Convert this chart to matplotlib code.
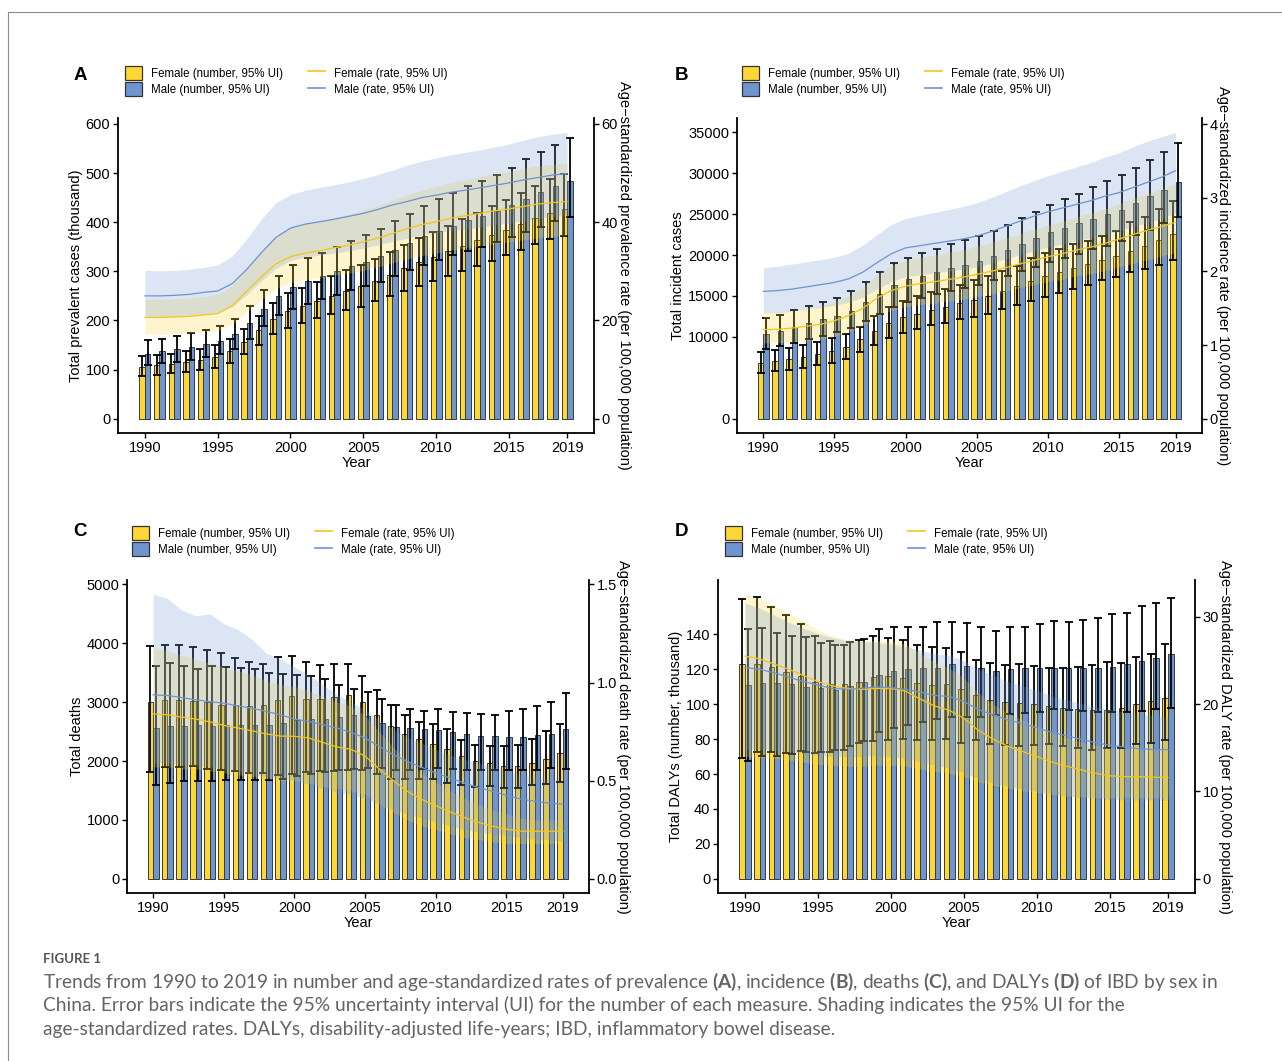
import numpy as np
import matplotlib
matplotlib.use("Agg")
import matplotlib.pyplot as plt
from matplotlib.patches import Patch
from matplotlib.lines import Line2D

plt.rcParams['font.family'] = ['Liberation Sans', 'DejaVu Sans']
plt.rcParams['mathtext.fontset'] = 'custom'
plt.rcParams['mathtext.rm'] = 'Lato'
plt.rcParams['mathtext.bf'] = 'Lato:bold'

W, H = 1282, 1061

years = np.arange(1990, 2020)
year_ticks = [1990, 1995, 2000, 2005, 2010, 2015, 2019]

# ---- A: prevalence (number in thousand, rate per 100,000) ----
prev_f = [106, 109, 112, 116, 120, 126, 137, 157, 180, 203, 219, 230, 240, 250, 260,
          270, 281, 293, 306, 319, 330, 342, 352, 363, 374, 385, 396, 408, 418, 426]
prev_f_lo = [87, 89, 92, 95, 99, 104, 114, 132, 151, 172, 185, 194, 204, 213, 221,
             228, 239, 249, 260, 270, 280, 290, 300, 311, 321, 333, 343, 355, 365, 372]
prev_f_hi = [128, 130, 132, 138, 142, 150, 163, 183, 210, 236, 255, 267, 279, 290, 303,
             313, 326, 339, 353, 367, 381, 393, 406, 419, 432, 445, 459, 473, 487, 499]
prev_m = [132, 137, 141, 146, 152, 159, 172, 195, 223, 249, 268, 281, 291, 300, 310,
          320, 332, 344, 358, 371, 382, 393, 404, 413, 423, 435, 448, 461, 473, 484]
prev_m_lo = [109, 113, 115, 120, 126, 132, 142, 163, 188, 211, 224, 234, 243, 251, 262,
             270, 279, 291, 302, 313, 323, 333, 342, 350, 359, 370, 380, 391, 403, 410]
prev_m_hi = [160, 163, 169, 175, 181, 189, 203, 230, 261, 291, 313, 327, 338, 349, 361,
             373, 386, 402, 417, 433, 447, 460, 473, 484, 497, 510, 528, 543, 558, 571]
prev_rate_f = [20.6, 20.6, 20.7, 20.8, 21.1, 21.4, 23.0, 26.0, 28.9, 31.5, 33.0, 33.7, 34.2, 34.8, 35.3,
               36.0, 36.8, 37.7, 38.7, 39.5, 40.1, 40.8, 41.3, 41.8, 42.3, 42.7, 43.2, 43.7, 44.0, 44.2]
prev_rate_f_lo = [17.2, 17.2, 17.3, 17.4, 17.7, 17.9, 19.2, 21.7, 24.2, 26.4, 27.7, 28.3, 28.7, 29.2, 29.6,
                  30.2, 30.9, 31.7, 32.5, 33.2, 33.7, 34.3, 34.8, 35.2, 35.6, 36.0, 36.4, 36.8, 37.1, 37.3]
prev_rate_f_hi = [24.3, 24.3, 24.4, 24.6, 24.9, 25.3, 27.1, 30.7, 34.1, 37.2, 38.9, 39.7, 40.3, 41.0, 41.6,
                  42.4, 43.4, 44.4, 45.6, 46.5, 47.3, 48.1, 48.7, 49.3, 49.9, 50.3, 50.9, 51.5, 51.8, 52.1]
prev_rate_m = [25.0, 25.0, 25.1, 25.3, 25.7, 26.0, 27.5, 30.4, 33.8, 36.9, 38.8, 39.6, 40.1, 40.6, 41.2,
               41.8, 42.6, 43.5, 44.2, 45.0, 45.5, 46.1, 46.5, 47.0, 47.5, 48.0, 48.6, 49.1, 49.6, 49.9]
prev_rate_m_lo = [20.8, 20.8, 20.8, 21.0, 21.3, 21.6, 22.8, 25.2, 28.1, 30.6, 32.2, 32.9, 33.3, 33.7, 34.2,
                  34.7, 35.4, 36.1, 36.7, 37.4, 37.8, 38.3, 38.6, 39.0, 39.4, 39.8, 40.3, 40.8, 41.2, 41.4]
prev_rate_m_hi = [30.2, 30.1, 30.2, 30.4, 30.8, 31.3, 33.1, 36.6, 40.6, 44.0, 45.6, 46.5, 47.1, 47.6, 48.2,
                  48.9, 49.7, 50.6, 51.6, 52.4, 53.1, 53.7, 54.2, 54.7, 55.3, 55.9, 56.7, 57.4, 57.9, 58.3]

# ---- B: incidence (cases, rate per 100,000) ----
inc_f = [6830, 7030, 7320, 7560, 7930, 8250, 8820, 9720, 10690, 11670, 12440, 12850, 13290, 13660, 14110,
         14510, 15040, 15570, 16180, 16790, 17400, 17890, 18410, 18900, 19350, 19840, 20490, 21140, 21830, 22600]
inc_f_lo = [5610, 5770, 5930, 6220, 6590, 6830, 7320, 8170, 8980, 9880, 10490, 10930, 11420, 11750, 12150,
            12400, 12800, 13400, 13900, 14400, 14900, 15400, 15900, 16400, 16900, 17300, 17900, 18300, 18800, 19400]
inc_f_hi = [8130, 8370, 8620, 9020, 9350, 9840, 10410, 11260, 12520, 13620, 14350, 14960, 15490, 15890, 16300,
            16900, 17400, 18000, 18700, 19600, 20200, 20800, 21300, 21700, 22300, 23000, 24000, 24700, 25600, 26600]
inc_m = [10410, 10770, 11180, 11670, 12150, 12600, 13210, 14230, 15280, 16300, 17030, 17480, 17930, 18370, 18820,
         19310, 19920, 20610, 21340, 22110, 22800, 23370, 23900, 24430, 25000, 25570, 26340, 27200, 28010, 28900]
inc_m_lo = [8500, 8900, 9300, 9700, 10100, 10600, 11100, 11900, 12800, 13700, 14300, 14800, 15200, 15600, 16000,
            16400, 16900, 17400, 18000, 18600, 19200, 19600, 20100, 20700, 21100, 21700, 22400, 23100, 23900, 24700]
inc_m_hi = [12300, 12700, 13300, 13800, 14300, 14800, 15600, 16700, 17900, 19000, 19700, 20300, 20700, 21300, 21800,
            22300, 22900, 23700, 24500, 25300, 26100, 26800, 27500, 28300, 29000, 29800, 30700, 31600, 32600, 33700]
inc_rate_f = [1.21, 1.214, 1.23, 1.255, 1.28, 1.33, 1.40, 1.50, 1.64, 1.74, 1.80, 1.835, 1.86, 1.89, 1.92,
              1.96, 2.00, 2.05, 2.10, 2.15, 2.20, 2.24, 2.29, 2.33, 2.38, 2.44, 2.50, 2.56, 2.61, 2.67]
inc_rate_f_lo = [1.03, 1.03, 1.04, 1.06, 1.08, 1.12, 1.18, 1.27, 1.39, 1.47, 1.52, 1.55, 1.57, 1.60, 1.62,
                 1.66, 1.69, 1.73, 1.78, 1.82, 1.86, 1.89, 1.94, 1.97, 2.01, 2.06, 2.11, 2.16, 2.21, 2.26]
inc_rate_f_hi = [1.44, 1.45, 1.47, 1.50, 1.53, 1.59, 1.67, 1.79, 1.96, 2.08, 2.15, 2.19, 2.22, 2.26, 2.29,
                 2.34, 2.39, 2.45, 2.51, 2.57, 2.63, 2.68, 2.74, 2.79, 2.85, 2.92, 2.99, 3.06, 3.12, 3.19]
inc_rate_m = [1.73, 1.74, 1.76, 1.79, 1.82, 1.85, 1.90, 1.99, 2.12, 2.24, 2.32, 2.35, 2.38, 2.41, 2.44,
              2.48, 2.54, 2.61, 2.68, 2.75, 2.81, 2.86, 2.91, 2.96, 3.02, 3.07, 3.14, 3.21, 3.28, 3.37]
inc_rate_m_lo = [1.44, 1.44, 1.46, 1.49, 1.51, 1.54, 1.58, 1.65, 1.76, 1.86, 1.93, 1.95, 1.98, 2.00, 2.03,
                 2.06, 2.11, 2.17, 2.22, 2.28, 2.33, 2.37, 2.42, 2.46, 2.51, 2.55, 2.61, 2.66, 2.72, 2.80]
inc_rate_m_hi = [2.05, 2.07, 2.10, 2.13, 2.16, 2.19, 2.25, 2.36, 2.50, 2.64, 2.72, 2.76, 2.80, 2.84, 2.88,
                 2.93, 3.00, 3.08, 3.16, 3.23, 3.30, 3.36, 3.42, 3.48, 3.55, 3.61, 3.69, 3.77, 3.83, 3.89]

# ---- C: deaths (number, rate per 100,000) ----
death_f = [3000, 3040, 3040, 3020, 3000, 2960, 2950, 2940, 2960, 3040, 3100, 3060, 3050, 3080, 3130,
           3000, 2780, 2600, 2460, 2380, 2290, 2200, 2090, 2000, 1960, 1920, 1920, 1970, 2040, 2140]
death_f_lo = [1814, 1893, 1898, 1921, 1864, 1847, 1831, 1802, 1790, 1760, 1780, 1814, 1825, 1836, 1853,
              1847, 1780, 1701, 1700, 1690, 1690, 1630, 1590, 1560, 1570, 1540, 1550, 1590, 1610, 1640]
death_f_hi = [3960, 3977, 3966, 3944, 3893, 3842, 3746, 3678, 3650, 3763, 3780, 3689, 3638, 3640, 3650,
              3441, 3203, 2949, 2780, 2661, 2630, 2540, 2350, 2280, 2260, 2250, 2270, 2380, 2510, 2621]
death_m = [2560, 2600, 2600, 2610, 2600, 2610, 2620, 2610, 2620, 2650, 2690, 2720, 2720, 2740, 2790,
           2760, 2650, 2570, 2560, 2540, 2520, 2490, 2460, 2430, 2420, 2410, 2410, 2440, 2460, 2540]
death_m_lo = [1590, 1620, 1660, 1660, 1660, 1670, 1680, 1680, 1680, 1700, 1740, 1780, 1810, 1840, 1860,
              1880, 1880, 1840, 1840, 1860, 1890, 1870, 1840, 1840, 1840, 1840, 1840, 1840, 1880, 1870]
death_m_hi = [3620, 3660, 3610, 3570, 3620, 3590, 3580, 3560, 3500, 3480, 3460, 3450, 3390, 3290, 3230,
              3170, 3060, 2950, 2880, 2850, 2880, 2830, 2810, 2800, 2780, 2850, 2880, 2930, 3000, 3150]
death_rate_f = [0.840, 0.836, 0.824, 0.814, 0.800, 0.782, 0.768, 0.754, 0.738, 0.727, 0.726, 0.718, 0.695, 0.672, 0.660,
                0.625, 0.560, 0.500, 0.445, 0.405, 0.372, 0.342, 0.313, 0.288, 0.268, 0.252, 0.243, 0.242, 0.242, 0.242]
death_rate_f_lo = [0.57, 0.57, 0.56, 0.56, 0.55, 0.54, 0.53, 0.52, 0.51, 0.50, 0.50, 0.49, 0.47, 0.46, 0.45,
                   0.43, 0.38, 0.34, 0.30, 0.27, 0.25, 0.23, 0.21, 0.20, 0.19, 0.18, 0.18, 0.18, 0.18, 0.18]
death_rate_f_hi = [1.18, 1.16, 1.14, 1.12, 1.10, 1.08, 1.06, 1.04, 1.01, 0.99, 0.98, 0.96, 0.93, 0.90, 0.88,
                   0.83, 0.75, 0.67, 0.60, 0.54, 0.49, 0.45, 0.41, 0.38, 0.35, 0.33, 0.31, 0.30, 0.30, 0.30]
death_rate_m = [0.937, 0.934, 0.924, 0.912, 0.903, 0.895, 0.881, 0.869, 0.853, 0.836, 0.814, 0.802, 0.785, 0.768, 0.747,
                0.717, 0.675, 0.632, 0.598, 0.568, 0.539, 0.514, 0.488, 0.466, 0.446, 0.425, 0.407, 0.395, 0.385, 0.381]
death_rate_m_lo = [0.59, 0.59, 0.58, 0.58, 0.57, 0.56, 0.55, 0.53, 0.52, 0.51, 0.50, 0.48, 0.46, 0.44, 0.43,
                   0.41, 0.38, 0.35, 0.33, 0.31, 0.29, 0.27, 0.25, 0.24, 0.23, 0.22, 0.21, 0.20, 0.20, 0.19]
death_rate_m_hi = [1.45, 1.43, 1.37, 1.34, 1.35, 1.30, 1.27, 1.22, 1.15, 1.12, 1.08, 1.04, 0.99, 0.94, 0.90,
                   0.86, 0.81, 0.76, 0.72, 0.69, 0.66, 0.63, 0.61, 0.59, 0.57, 0.55, 0.53, 0.52, 0.51, 0.50]

# ---- D: DALYs (number in thousand, rate per 100,000) ----
daly_f = [123.0, 123.0, 121.3, 118.2, 116.3, 112.9, 111.4, 111.6, 112.9, 115.6, 116.3, 114.8, 112.2, 111.0, 111.7,
          108.8, 105.3, 102.5, 101.1, 100.9, 100.2, 99.1, 98.1, 97.3, 96.8, 96.8, 97.9, 100.2, 101.9, 103.8]
daly_f_lo = [69.0, 72.5, 72.5, 72.0, 73.0, 72.0, 72.5, 74.0, 78.0, 79.0, 79.5, 80.0, 79.5, 79.5, 80.0,
             78.0, 79.5, 77.0, 76.5, 76.0, 76.5, 77.0, 76.0, 75.0, 74.0, 75.0, 75.0, 77.0, 77.5, 79.5]
daly_f_hi = [160.0, 161.5, 155.5, 151.0, 146.0, 139.0, 136.0, 134.0, 136.5, 139.0, 138.0, 137.0, 134.0, 132.5, 132.0,
             130.0, 125.5, 123.5, 122.5, 123.0, 122.0, 121.0, 121.0, 121.5, 122.5, 124.0, 123.5, 127.0, 129.0, 134.5]
daly_m = [111.0, 112.0, 112.0, 111.5, 110.0, 109.0, 108.0, 110.5, 113.0, 117.0, 119.0, 120.0, 120.5, 121.0, 123.0,
          122.0, 120.5, 119.0, 120.0, 120.5, 121.0, 121.0, 121.0, 121.0, 121.0, 121.5, 123.0, 125.0, 126.5, 128.5]
daly_m_lo = [67.5, 70.5, 70.5, 71.5, 72.5, 72.5, 74.0, 76.0, 79.0, 84.0, 86.5, 88.0, 90.0, 91.5, 92.5,
             92.5, 92.5, 94.0, 94.5, 95.0, 95.5, 97.0, 96.5, 96.0, 95.5, 95.5, 95.5, 96.0, 97.0, 98.0]
daly_m_hi = [143.0, 143.5, 141.0, 139.0, 138.5, 135.0, 134.0, 135.5, 137.5, 143.0, 144.0, 144.0, 144.5, 147.0, 147.0,
             146.5, 144.5, 142.0, 144.0, 144.5, 146.0, 147.5, 147.0, 148.0, 149.5, 151.5, 152.0, 156.0, 158.0, 161.0]
daly_rate_f = [25.5, 25.2, 24.6, 24.0, 23.3, 22.6, 22.1, 21.8, 21.7, 21.8, 21.8, 21.5, 20.6, 19.8, 19.3,
               18.4, 17.0, 16.0, 15.2, 14.6, 14.0, 13.4, 12.9, 12.5, 12.1, 11.8, 11.7, 11.7, 11.64, 11.6]
daly_rate_f_lo = [14.0, 13.9, 13.8, 13.6, 13.4, 13.1, 13.0, 12.9, 12.9, 13.0, 13.0, 12.9, 12.6, 12.3, 12.1,
                  11.7, 11.1, 10.7, 10.4, 10.1, 9.9, 9.7, 9.5, 9.4, 9.3, 9.3, 9.3, 9.3, 9.3, 9.3]
daly_rate_f_hi = [32.6, 32.1, 31.3, 30.4, 29.5, 28.5, 27.8, 27.4, 27.2, 27.3, 27.3, 26.9, 25.8, 24.8, 24.1,
                  23.0, 21.3, 20.0, 19.0, 18.2, 17.5, 16.8, 16.2, 15.7, 15.3, 15.0, 14.9, 14.9, 14.8, 14.8]
daly_rate_m = [24.2, 24.0, 23.6, 23.1, 22.6, 22.2, 21.8, 21.7, 21.8, 22.0, 21.9, 21.7, 21.4, 21.0, 20.9,
               20.3, 19.4, 18.8, 18.2, 17.8, 17.3, 16.8, 16.4, 16.0, 15.6, 15.3, 15.1, 14.9, 14.8, 14.8]
daly_rate_m_lo = [14.8, 14.8, 14.7, 14.6, 14.4, 14.2, 14.0, 14.0, 14.0, 14.1, 14.0, 13.8, 13.4, 13.0, 12.7,
                  12.2, 11.5, 11.0, 10.6, 10.3, 10.0, 9.7, 9.5, 9.3, 9.2, 9.1, 9.0, 9.0, 9.0, 9.0]
daly_rate_m_hi = [31.6, 31.0, 30.2, 29.4, 28.7, 28.1, 27.6, 27.3, 27.2, 27.1, 26.9, 26.6, 26.2, 25.8, 25.6,
                  25.0, 24.0, 23.3, 22.6, 22.1, 21.6, 21.0, 20.5, 20.1, 19.7, 19.4, 19.1, 18.9, 18.7, 18.5]

FEMALE = '#FDD835'
MALE = '#6F95CF'
FEMALE_LINE = '#F5C518'
MALE_LINE = '#6E93D3'
BAR_W = 0.38

panels = [
    dict(letter='A', rect=(118, 118, 594, 433), letter_xy=(80, 75), legend_xy=(125, 66),
         num=(prev_f, prev_f_lo, prev_f_hi, prev_m, prev_m_lo, prev_m_hi),
         rate=(prev_rate_f, prev_rate_f_lo, prev_rate_f_hi, prev_rate_m, prev_rate_m_lo, prev_rate_m_hi),
         factor=10, yticks=[0, 100, 200, 300, 400, 500, 600], rticks=[0, 20, 40, 60], rfmt='{:g}',
         ylabel='Total prevalent cases (thousand)',
         rlabel='Age\u2212standardized prevalence rate (per 100,000 population)'),
    dict(letter='B', rect=(737, 118, 1202, 433), letter_xy=(681, 75), legend_xy=(742, 66),
         num=(inc_f, inc_f_lo, inc_f_hi, inc_m, inc_m_lo, inc_m_hi),
         rate=(inc_rate_f, inc_rate_f_lo, inc_rate_f_hi, inc_rate_m, inc_rate_m_lo, inc_rate_m_hi),
         factor=9000, yticks=[0, 10000, 15000, 20000, 25000, 30000, 35000], rticks=[0, 1, 2, 3, 4], rfmt='{:g}',
         ylabel='Total incident cases',
         rlabel='Age\u2212standardized incidence rate (per 100,000 population)'),
    dict(letter='C', rect=(127, 580, 589, 893), letter_xy=(80, 531), legend_xy=(132, 526),
         num=(death_f, death_f_lo, death_f_hi, death_m, death_m_lo, death_m_hi),
         rate=(death_rate_f, death_rate_f_lo, death_rate_f_hi, death_rate_m, death_rate_m_lo, death_rate_m_hi),
         factor=10000 / 3, yticks=[0, 1000, 2000, 3000, 4000, 5000], rticks=[0, 0.5, 1.0, 1.5], rfmt='{:.1f}',
         ylabel='Total deaths',
         rlabel='Age\u2212standardized death rate (per 100,000 population)'),
    dict(letter='D', rect=(718, 580, 1195, 893), letter_xy=(681, 531), legend_xy=(725, 526),
         num=(daly_f, daly_f_lo, daly_f_hi, daly_m, daly_m_lo, daly_m_hi),
         rate=(daly_rate_f, daly_rate_f_lo, daly_rate_f_hi, daly_rate_m, daly_rate_m_lo, daly_rate_m_hi),
         factor=5, yticks=[0, 20, 40, 60, 80, 100, 120, 140], rticks=[0, 10, 20, 30], rfmt='{:g}',
         ylabel='Total DALYs (number, thousand)',
         rlabel='Age\u2212standardized DALY rate (per 100,000 population)'),
]

fig = plt.figure(figsize=(W / 100, H / 100), dpi=100)
fig.patch.set_facecolor('white')

# page frame
fig.add_artist(Line2D([8 / W, 1], [1 - 12 / H, 1 - 12 / H], color='#8c8c8c', lw=0.8))
fig.add_artist(Line2D([8 / W, 8 / W], [0, 1 - 12 / H], color='#8c8c8c', lw=0.8))

legend_handles = [
    Patch(facecolor=FEMALE, edgecolor='#333333', lw=0.9, label='Female (number, 95% UI)'),
    Patch(facecolor=MALE, edgecolor='#333333', lw=0.9, label='Male (number, 95% UI)'),
    Line2D([], [], color=FEMALE_LINE, lw=1.2, label='Female (rate, 95% UI)'),
    Line2D([], [], color=MALE_LINE, lw=1.2, label='Male (rate, 95% UI)'),
]


def draw_panel(p):
    l, t, r, b = p['rect']
    ax = fig.add_axes([l / W, 1 - b / H, (r - l) / W, (b - t) / H])
    f, f_lo, f_hi, m, m_lo, m_hi = [np.asarray(v, float) for v in p['num']]
    rf, rf_lo, rf_hi, rm, rm_lo, rm_hi = [np.asarray(v, float) for v in p['rate']]
    k = p['factor']

    # bars with error bars (number)
    ax.bar(years - BAR_W / 2, f, width=BAR_W, color=FEMALE, edgecolor='#3a3a3a', lw=0.7, zorder=2)
    ax.bar(years + BAR_W / 2, m, width=BAR_W, color=MALE, edgecolor='#3a3a3a', lw=0.7, zorder=2)
    ax.errorbar(years - BAR_W / 2, f, yerr=[f - f_lo, f_hi - f], fmt='none', ecolor='black',
                elinewidth=1.3, capsize=3, capthick=1.3, zorder=3)
    ax.errorbar(years + BAR_W / 2, m, yerr=[m - m_lo, m_hi - m], fmt='none', ecolor='black',
                elinewidth=1.3, capsize=3, capthick=1.3, zorder=3)

    top = max(f_hi.max(), m_hi.max(), rf_hi.max() * k, rm_hi.max() * k)
    ylo, yhi = -0.05 * top, 1.05 * top
    ax.set_ylim(ylo, yhi)
    ax.set_xlim(1988.15, 2020.85)
    ax.set_xticks(year_ticks)
    ax.set_yticks(p['yticks'])
    ax.set_xlabel('Year', fontsize=10.5, labelpad=1)
    ax.set_ylabel(p['ylabel'], fontsize=10.5, labelpad=2)
    for s in ('top', 'right'):
        ax.spines[s].set_visible(False)

    # rates with 95% UI ribbons on the secondary axis
    ax2 = ax.twinx()
    ax2.set_ylim(ylo / k, yhi / k)
    ax2.fill_between(years, rf_lo, rf_hi, color=FEMALE, alpha=0.24, lw=0)
    ax2.fill_between(years, rm_lo, rm_hi, color=MALE, alpha=0.24, lw=0)
    ax2.plot(years, rf, color=FEMALE_LINE, lw=0.9)
    ax2.plot(years, rm, color=MALE_LINE, lw=0.9)
    ax2.set_yticks(p['rticks'])
    ax2.set_yticklabels([p['rfmt'].format(v) for v in p['rticks']])
    ax2.set_ylabel(p['rlabel'], fontsize=10.5, rotation=-90, va='bottom', labelpad=-1)
    for s in ('top', 'left', 'bottom'):
        ax2.spines[s].set_visible(False)

    for a in (ax, ax2):
        for s in a.spines.values():
            s.set_linewidth(1.3)
        a.tick_params(direction='out', length=3.5, width=1.0, labelsize=10.5, pad=2, colors='black')

    lx, ly = p['letter_xy']
    fig.text(lx / W, 1 - ly / H, p['letter'], fontsize=13.5, fontweight='bold', ha='center', va='center')

    gx, gy = p['legend_xy']
    fig.legend(handles=legend_handles, ncol=2, loc='upper left', bbox_to_anchor=(gx / W, 1 - gy / H),
               frameon=False, fontsize=8.3, borderpad=0, borderaxespad=0, handlelength=1.45,
               handleheight=1.5, handletextpad=0.8, labelspacing=0.2, columnspacing=2.2)


for p in panels:
    draw_panel(p)

# caption
fig.text(43 / W, 1 - 963 / H, 'FIGURE 1', fontsize=9.5, fontweight='bold', color='#555555',
         family='Lato', va='baseline')
cap_lines = [
    r'Trends from 1990 to 2019 in number and age-standardized rates of prevalence $\mathbf{(A)}$, '
    r'incidence $\mathbf{(B)}$, deaths $\mathbf{(C)}$, and DALYs $\mathbf{(D)}$ of IBD by sex in',
    'China. Error bars indicate the 95% uncertainty interval (UI) for the number of each measure. '
    'Shading indicates the 95% UI for the',
    'age-standardized rates. DALYs, disability-adjusted life-years; IBD, inflammatory bowel disease.',
]
for i, line in enumerate(cap_lines):
    fig.text(43 / W, 1 - (988 + 23.5 * i) / H, line, fontsize=13.8, color='#646464',
             family='Lato', va='baseline')

fig.savefig('out.png', dpi=100)
